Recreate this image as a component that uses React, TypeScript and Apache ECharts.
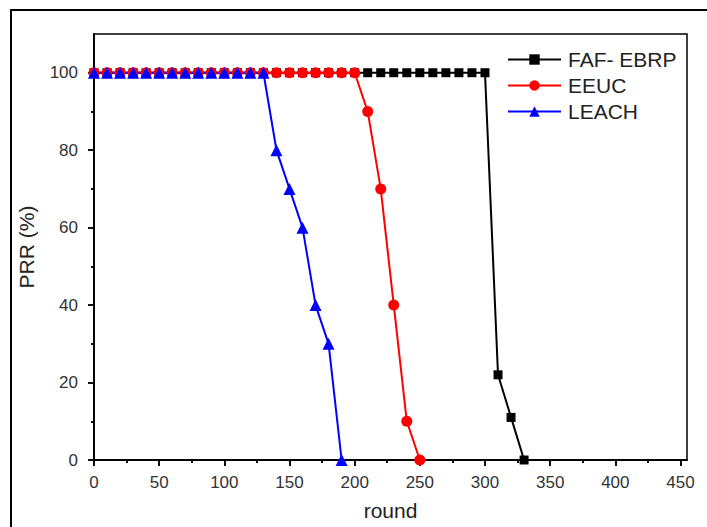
import React, { useEffect, useRef } from "react";
import * as echarts from "echarts";

// FAF- EBRP
const fafRounds = [0, 10, 20, 30, 40, 50, 60, 70, 80, 90, 100, 110, 120, 130, 140, 150, 160, 170, 180, 190, 200, 210, 220, 230, 240, 250, 260, 270, 280, 290, 300, 310, 320, 330];
const fafPRR = [100, 100, 100, 100, 100, 100, 100, 100, 100, 100, 100, 100, 100, 100, 100, 100, 100, 100, 100, 100, 100, 100, 100, 100, 100, 100, 100, 100, 100, 100, 100, 22, 11, 0];
// EEUC
const eeucRounds = [0, 10, 20, 30, 40, 50, 60, 70, 80, 90, 100, 110, 120, 130, 140, 150, 160, 170, 180, 190, 200, 210, 220, 230, 240, 250];
const eeucPRR = [100, 100, 100, 100, 100, 100, 100, 100, 100, 100, 100, 100, 100, 100, 100, 100, 100, 100, 100, 100, 100, 90, 70, 40, 10, 0];
// LEACH
const leachRounds = [0, 10, 20, 30, 40, 50, 60, 70, 80, 90, 100, 110, 120, 130, 140, 150, 160, 170, 180, 190];
const leachPRR = [100, 100, 100, 100, 100, 100, 100, 100, 100, 100, 100, 100, 100, 100, 80, 70, 60, 40, 30, 0];

const xMajorTicks = [0, 50, 100, 150, 200, 250, 300, 350, 400, 450];
const xMinorTicks = [25, 75, 125, 175, 225, 275, 325, 375, 425];
const yMajorTicks = [0, 20, 40, 60, 80, 100];
const yMinorTicks = [10, 30, 50, 70, 90];

const FONT = "'Liberation Sans', Arial, sans-serif";

const pair = (xs: number[], ys: number[]) => xs.map((x, i) => [x, ys[i]]);

export default function App() {
  const ref = useRef<HTMLDivElement>(null);
  useEffect(() => {
    if (!ref.current) return;
    const chart = echarts.init(ref.current, undefined, { renderer: "svg" });
    const lineCol = "#000";
    const baseX = { type: "value", min: 0, max: 455, gridIndex: 0, splitLine: { show: false } };
    const baseY = { type: "value", min: 0, max: 110, gridIndex: 0, splitLine: { show: false } };
    chart.setOption({
      animation: false,
      backgroundColor: "#fff",
      grid: { left: 94, top: 34, right: 20, bottom: 67, show: true, borderColor: lineCol, borderWidth: 1.5, backgroundColor: "transparent" },
      graphic: [
        { type: "rect", shape: { x: 11, y: 10, width: 720, height: 540 }, style: { fill: "none", stroke: "#000", lineWidth: 2 }, silent: true },
      ],
      legend: {
        orient: "vertical",
        left: 507,
        top: 49,
        padding: 0,
        itemWidth: 53,
        itemHeight: 13,
        itemGap: 5,
        textStyle: { fontFamily: FONT, fontSize: 21, color: "#222", lineHeight: 21, padding: [0, 0, 0, 2] },
        data: ["FAF- EBRP", "EEUC", "LEACH"],
      },
      xAxis: [
        {
          ...baseX,
          position: "bottom",
          name: "round",
          nameLocation: "middle",
          nameGap: 40,
          nameTextStyle: { fontFamily: FONT, fontSize: 21, color: "#222" },
          axisLine: { show: true, lineStyle: { color: lineCol, width: 1.5 } },
          axisTick: { show: true, length: 6, customValues: xMajorTicks, lineStyle: { color: lineCol, width: 1.5 } },
          axisLabel: { show: true, customValues: xMajorTicks, margin: 14, fontFamily: FONT, fontSize: 17, color: "#333" },
        },
        {
          ...baseX,
          position: "bottom",
          axisLine: { show: false },
          axisTick: { show: true, length: 3, customValues: xMinorTicks, lineStyle: { color: lineCol, width: 1.5 } },
          axisLabel: { show: false },
        },
        {
          ...baseX,
          position: "top",
          axisLine: { show: true, lineStyle: { color: lineCol, width: 1.5 } },
          axisTick: { show: true, inside: true, length: 6, customValues: xMajorTicks, lineStyle: { color: lineCol, width: 1.5 } },
          axisLabel: { show: false },
        },
        {
          ...baseX,
          position: "top",
          axisLine: { show: false },
          axisTick: { show: true, inside: true, length: 3, customValues: xMinorTicks, lineStyle: { color: lineCol, width: 1.5 } },
          axisLabel: { show: false },
        },
      ],
      yAxis: [
        {
          ...baseY,
          position: "left",
          name: "PRR (%)",
          nameLocation: "middle",
          nameGap: 57,
          nameTextStyle: { fontFamily: FONT, fontSize: 21, color: "#222" },
          axisLine: { show: true, lineStyle: { color: lineCol, width: 1.5 } },
          axisTick: { show: true, length: 6, customValues: yMajorTicks, lineStyle: { color: lineCol, width: 1.5 } },
          axisLabel: { show: true, customValues: yMajorTicks, margin: 16, fontFamily: FONT, fontSize: 17, color: "#333" },
        },
        {
          ...baseY,
          position: "left",
          axisLine: { show: false },
          axisTick: { show: true, length: 3, customValues: yMinorTicks, lineStyle: { color: lineCol, width: 1.5 } },
          axisLabel: { show: false },
        },
        {
          ...baseY,
          position: "right",
          axisLine: { show: true, lineStyle: { color: lineCol, width: 1.5 } },
          axisTick: { show: true, inside: true, length: 6, customValues: yMajorTicks, lineStyle: { color: lineCol, width: 1.5 } },
          axisLabel: { show: false },
        },
        {
          ...baseY,
          position: "right",
          axisLine: { show: false },
          axisTick: { show: true, inside: true, length: 3, customValues: yMinorTicks, lineStyle: { color: lineCol, width: 1.5 } },
          axisLabel: { show: false },
        },
      ],
      series: [
        {
          name: "FAF- EBRP",
          type: "line",
          xAxisIndex: 0,
          yAxisIndex: 0,
          data: pair(fafRounds, fafPRR),
          symbol: "rect",
          symbolSize: 9,
          color: "#000000",
          lineStyle: { color: "#000000", width: 2 },
          itemStyle: { color: "#000000" },
        },
        {
          name: "EEUC",
          type: "line",
          xAxisIndex: 0,
          yAxisIndex: 0,
          data: pair(eeucRounds, eeucPRR),
          symbol: "circle",
          symbolSize: 11,
          color: "#ff0000",
          lineStyle: { color: "#ff0000", width: 2 },
          itemStyle: { color: "#ff0000" },
        },
        {
          name: "LEACH",
          type: "line",
          xAxisIndex: 0,
          yAxisIndex: 0,
          data: pair(leachRounds, leachPRR),
          symbol: "triangle",
          symbolSize: 12,
          color: "#0000ff",
          lineStyle: { color: "#0000ff", width: 2 },
          itemStyle: { color: "#0000ff" },
        },
      ],
    });
    return () => chart.dispose();
  }, []);
  return <div ref={ref} style={{ position: "absolute", left: 0, top: 0, width: 707, height: 527 }} />;
}
